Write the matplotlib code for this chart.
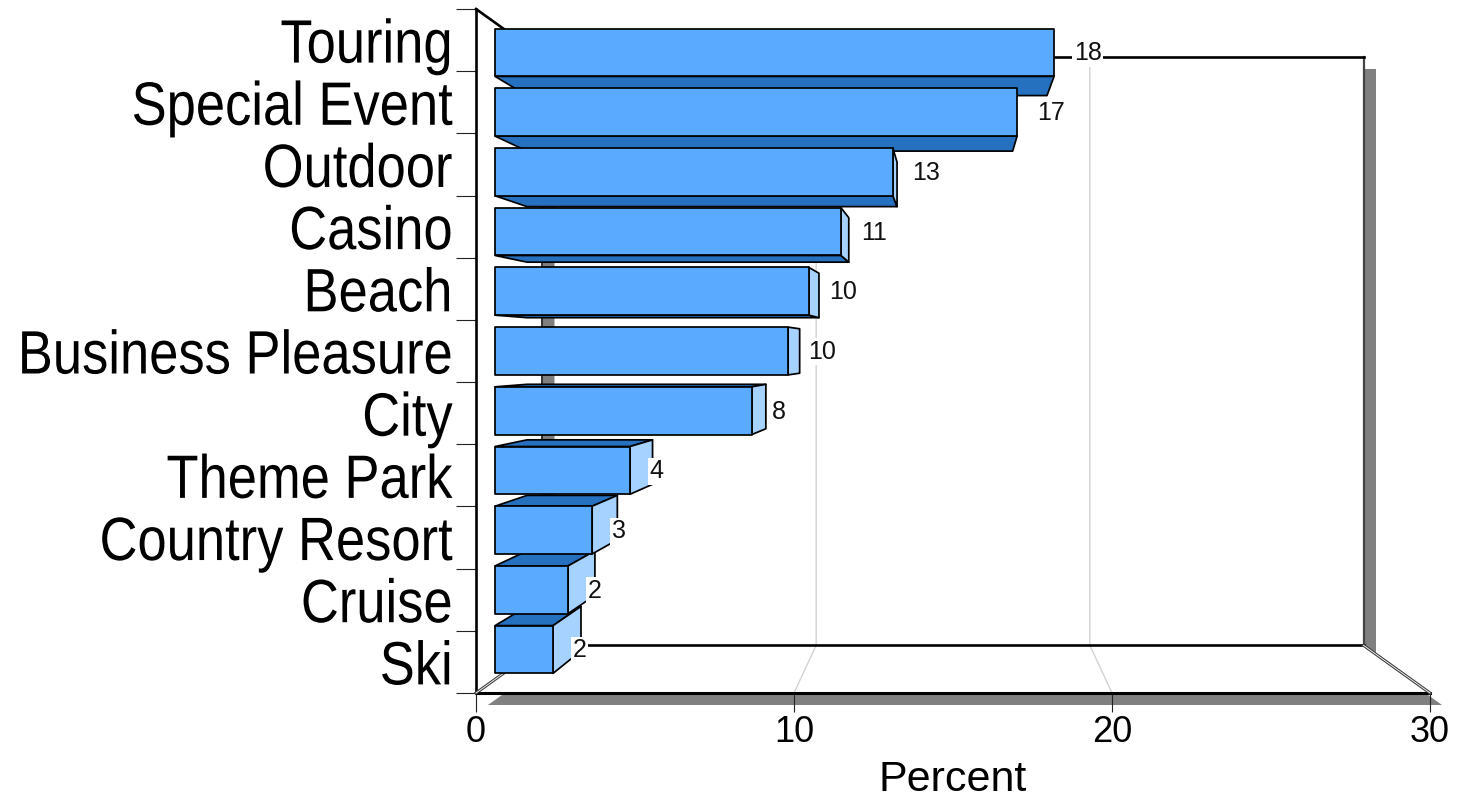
import matplotlib
matplotlib.use('Agg')
import matplotlib.pyplot as plt
from matplotlib.patches import Polygon
from matplotlib.patheffects import AbstractPathEffect
from matplotlib.transforms import Affine2D


#Data
CATEGORIES = ['Touring', 'Special Event', 'Outdoor', 'Casino', 'Beach', 'Business Pleasure',
              'City', 'Theme Park', 'Country Resort', 'Cruise', 'Ski']
PERCENT = [18.31, 17.1, 13.03, 11.33, 10.28, 9.6, 8.41, 4.42, 3.18, 2.39, 1.9]
X_TICKS = [0, 10, 20, 30]


#Colors
FRONT = '#5aabff'
DARK_SIDE = '#2670c0'
LIGHT_SIDE = '#a6d2ff'
SHADOW = '#808080'
GRID = '#d2d2d2'

#Perspective: scale factors toward the vanishing point in the middle of the box
XMAX = 30
YMAX = len(CATEGORIES)
XC = XMAX/2
YC = YMAX/2
K_BACK = 0.8606
K_BAR_FRONT = 0.96
K_BAR_BACK = 0.893
BAR_H = 0.8

#px to data, the axes is 954x684 px
PX_X = XMAX/954
PX_Y = YMAX/684
OFF = 12


class TallGlyphs(AbstractPathEffect):
    #Stretches text glyphs: y about the baseline, x about a fixed right edge
    def __init__(self, sx, sy, right, drop):
        self.sx = sx
        self.sy = sy
        self.right = right
        self.drop = drop

    def draw_path(self, renderer, gc, tpath, affine, rgbFace=None):
        a = Affine2D().scale(1, self.sy) + affine
        a = a + Affine2D().translate(-self.right, 0).scale(self.sx, 1).translate(self.right, -self.drop)
        renderer.draw_path(gc, tpath, a, rgbFace)


def proj(x, y, k):
    return (XC + (x - XC)*k, YC + (y - YC)*k)


def face(ax, pts, color, z, lw=1.25):
    ax.add_patch(Polygon(pts, closed=True, facecolor=color, edgecolor='black',
                         linewidth=lw, joinstyle='round', clip_on=False, zorder=z))


def shift(p, n=OFF):
    return (p[0] + n*PX_X, p[1] + n*PX_Y)


fig = plt.figure(figsize=(14.57, 7.98), dpi=100)
ax = fig.add_axes([476/1457, 1 - 693/798, 954/1457, 684/798])
ax.set_xlim(0, XMAX)
ax.set_ylim(YMAX, 0)
ax.patch.set_visible(False)
for s in ax.spines.values():
    s.set_visible(False)

#Corners of the box
bl_f = (0, YMAX)
br_f = (XMAX, YMAX)
tl_f = (0, 0)
bl_b = proj(0, YMAX, K_BACK)
br_b = proj(XMAX, YMAX, K_BACK)
tl_b = proj(0, 0, K_BACK)
tr_b = proj(XMAX, 0, K_BACK)

#Drop shadow of the floor and back wall
ax.add_patch(Polygon([shift(bl_f), shift(br_f), shift(br_b), shift(bl_b)], facecolor=SHADOW,
                     edgecolor='none', clip_on=False, zorder=1))
ax.add_patch(Polygon([shift(tl_b), shift(tr_b), shift(br_b), shift(bl_b)], facecolor=SHADOW,
                     edgecolor='none', clip_on=False, zorder=1))
ax.add_patch(Polygon([bl_f, br_f, br_b, bl_b], facecolor='white', edgecolor='none',
                     clip_on=False, zorder=2))
ax.add_patch(Polygon([shift(tl_b), tr_b, br_b, shift(bl_b)], facecolor='white', edgecolor='none',
                     clip_on=False, zorder=2))
#Strip of shadow that shows down the left of the back wall
ax.add_patch(Polygon([tl_b, (shift(tl_b)[0], tl_b[1]), (shift(bl_b)[0], bl_b[1]), bl_b],
                     facecolor=SHADOW, edgecolor='none', clip_on=False, zorder=2))

#Gridlines run over the floor and up the back wall
for v in X_TICKS[1:-1]:
    a = proj(v, YMAX, 1)
    b = proj(v, YMAX, K_BACK)
    c = proj(v, 0, K_BACK)
    ax.plot([a[0], b[0], c[0]], [a[1], b[1], c[1]], color=GRID, lw=1.0, zorder=3, clip_on=False)

#Box edges
ax.plot([tl_b[0], bl_b[0]], [tl_b[1], bl_b[1]], color='#333333', lw=1.4, zorder=3, clip_on=False)
ax.plot([tr_b[0], br_b[0]], [tr_b[1], br_b[1]], color='#444444', lw=1.6, zorder=3, clip_on=False)
ax.plot([tl_b[0], tr_b[0]], [tl_b[1], tr_b[1]], color='black', lw=1.9, zorder=3, clip_on=False)
ax.plot([bl_b[0], br_b[0]], [bl_b[1], br_b[1]], color='black', lw=1.9, zorder=3, clip_on=False)
ax.plot([bl_f[0], br_f[0]], [bl_f[1], br_f[1]], color='black', lw=2.2, zorder=3, clip_on=False)
ax.plot([tl_f[0], bl_f[0]], [tl_f[1], bl_f[1]], color='black', lw=1.9, zorder=3, clip_on=False)
ax.plot([tl_f[0], tl_b[0]], [tl_f[1], tl_b[1]], color='black', lw=1.9, zorder=3, clip_on=False)
for a, b in [(bl_f, bl_b), (br_f, br_b)]:
    ax.plot([a[0], b[0]], [a[1], b[1]], color='#404040', lw=2.2, zorder=3, clip_on=False)
    ax.plot([a[0], b[0]], [a[1], b[1]], color='white', lw=0.6, zorder=3, clip_on=False)

#Bars, outermost first so the inner ones sit on top
order = sorted(range(YMAX), key=lambda i: -abs(i + 0.5 - YC))
for n, i in enumerate(order):
    v = PERCENT[i]
    top = i + 0.5 - BAR_H/2
    bot = i + 0.5 + BAR_H/2
    z = 10 + n
    f = [proj(0, top, K_BAR_FRONT), proj(v, top, K_BAR_FRONT),
         proj(v, bot, K_BAR_FRONT), proj(0, bot, K_BAR_FRONT)]
    b = [proj(0, top, K_BAR_BACK), proj(v, top, K_BAR_BACK),
         proj(v, bot, K_BAR_BACK), proj(0, bot, K_BAR_BACK)]
    if bot < YC:
        face(ax, [f[3], f[2], b[2], b[3]], DARK_SIDE, z)
    if top > YC:
        face(ax, [f[0], f[1], b[1], b[0]], DARK_SIDE, z)
    if v < XC:
        face(ax, [f[1], f[2], b[2], b[1]], LIGHT_SIDE, z)
    face(ax, f, FRONT, z)

#Value labels
for i, v in enumerate(PERCENT):
    p = proj(v, i + 0.5, K_BAR_FRONT)
    ax.annotate('%.0f' % v, xy=p, xytext=(14.2, -0.7), textcoords='offset points',
                ha='left', va='center', fontsize=18, family='Liberation Sans', color='#111111',
                bbox=dict(facecolor='white', edgecolor='none', pad=1.0), zorder=40,
                annotation_clip=False)

#Ticks
ax.set_xticks(X_TICKS)
ax.set_xticklabels([str(t) for t in X_TICKS], fontsize=26, family='Liberation Sans')
ax.tick_params(axis='x', length=14, width=0.8, color='#222222', pad=2)
ax.set_yticks(range(YMAX + 1))
ax.set_yticklabels([])
ax.tick_params(axis='y', which='major', length=14.5, width=0.8, color='#222222')
ax.set_yticks([i + 0.5 for i in range(YMAX)], minor=True)
labels = ax.set_yticklabels(CATEGORIES, minor=True, fontsize=38, family='Liberation Sans')
ax.tick_params(axis='y', which='minor', length=0, pad=17)
for t in labels:
    t.set_path_effects([TallGlyphs(0.995, 1.16, 451, 3)])
ax.set_xlabel('Percent', fontsize=31, family='Liberation Sans', labelpad=7)

fig.savefig('out.png', dpi=100)
